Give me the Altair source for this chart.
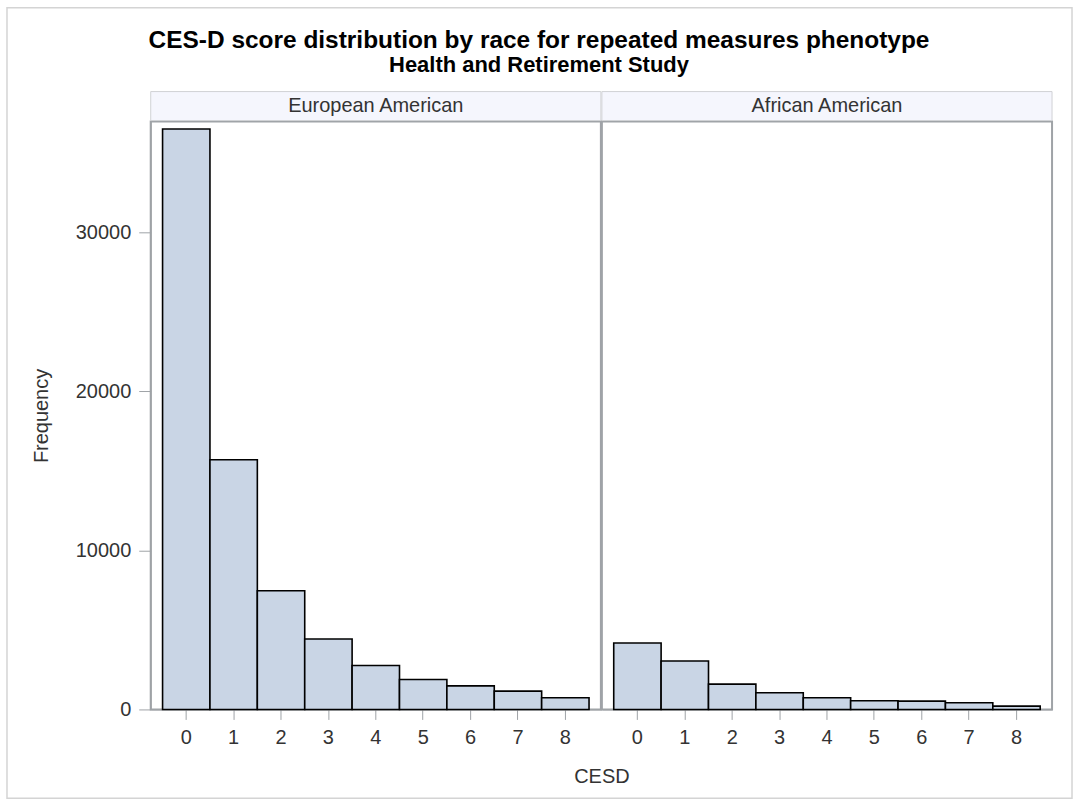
import altair as alt
import pandas as pd

cesd = [0, 1, 2, 3, 4, 5, 6, 7, 8]
european_american = [36500, 15700, 7460, 4430, 2760, 1880, 1480, 1150, 730]
african_american = [4180, 3050, 1590, 1045, 730, 545, 520, 420, 210]
panels = ["European American", "African American"]
y_ticks = [0, 10000, 20000, 30000]
title_text = "CES-D score distribution by race for repeated measures phenotype"
subtitle_text = "Health and Retirement Study"
x_title = "CESD"

FONT = "Liberation Sans, Arial, sans-serif"
W = 451
H = 589
HEADER = 29
BAR_FILL = "#c9d5e5"
FRAME = "#9fa3a7"
TXT = "#333333"


def panel(name, values, first):
    df = pd.DataFrame({"CESD": cesd, "Frequency": values})
    y_axis = (
        alt.Axis(
            values=y_ticks,
            title="Frequency",
            titleFontSize=20,
            titleFontWeight="normal",
            titleColor=TXT,
            titlePadding=24,
            titleFont=FONT,
            labelFont=FONT,
            labelFontSize=20,
            labelColor=TXT,
            labelPadding=8,
            tickSize=12,
            tickColor=FRAME,
            domainColor=FRAME,
            grid=False,
            format="d",
        )
        if first
        else None
    )
    bars = (
        alt.Chart(df)
        .mark_bar(fill=BAR_FILL, stroke="black", strokeWidth=1.6)
        .encode(
            x=alt.X(
                "CESD:O",
                scale=alt.Scale(paddingInner=0, paddingOuter=0.25),
                axis=alt.Axis(
                    title=None,
                    labelAngle=0,
                    labelFont=FONT,
                    labelFontSize=20,
                    labelColor=TXT,
                    labelPadding=8,
                    tickSize=10,
                    tickColor=FRAME,
                    domainColor=FRAME,
                    grid=False,
                ),
            ),
            y=alt.Y(
                "Frequency:Q",
                scale=alt.Scale(domain=[0, 36970], nice=False),
                axis=y_axis,
            ),
        )
    )
    hdf = pd.DataFrame(
        {"race": [name], "xt": [x_title], "title": [title_text], "sub": [subtitle_text]}
    )
    strip = (
        alt.Chart(hdf)
        .mark_rect(fill="#f5f6fd", stroke="#d0d2d5", strokeWidth=1)
        .encode(
            x=alt.value(0),
            x2=alt.value(W),
            y=alt.value(-HEADER - 1),
            y2=alt.value(-1),
        )
    )
    label = (
        alt.Chart(hdf)
        .mark_text(font=FONT, fontSize=20, color=TXT, baseline="middle")
        .encode(x=alt.value(W / 2), y=alt.value(-HEADER / 2 - 1), text="race:N")
    )
    layers = [bars, strip, label]
    if first:
        border = (
            alt.Chart(hdf)
            .mark_rect(fillOpacity=0, stroke="#d4d4d4", strokeWidth=1.5)
            .encode(
                x=alt.value(-144),
                x2=alt.value(923),
                y=alt.value(-114),
                y2=alt.value(678),
            )
        )
        xt = (
            alt.Chart(hdf)
            .mark_text(font=FONT, fontSize=20, color=TXT, baseline="middle")
            .encode(x=alt.value(W + 1), y=alt.value(H + 68), text="xt:N")
        )
        ttl = (
            alt.Chart(hdf)
            .mark_text(font=FONT, fontSize=24.5, fontWeight="bold", color="black",
                       baseline="alphabetic")
            .encode(x=alt.value(389), y=alt.value(-74), text="title:N")
        )
        sub = (
            alt.Chart(hdf)
            .mark_text(font=FONT, fontSize=22, fontWeight="bold", color="black",
                       baseline="alphabetic")
            .encode(x=alt.value(389), y=alt.value(-50), text="sub:N")
        )
        layers = [border] + layers + [xt, ttl, sub]
    return alt.layer(*layers).properties(
        width=W,
        height=H,
        view=alt.ViewBackground(stroke=FRAME, strokeWidth=2, fill="white"),
    )


chart = (
    alt.hconcat(
        panel(panels[0], european_american, True),
        panel(panels[1], african_american, False),
        spacing=1,
        bounds="flush",
    )
    .properties(padding={"left": 5, "top": 5, "right": 3, "bottom": 3})
    .configure(background="white")
)

chart.save("out.html", embed_options={"renderer": "svg", "actions": False})
